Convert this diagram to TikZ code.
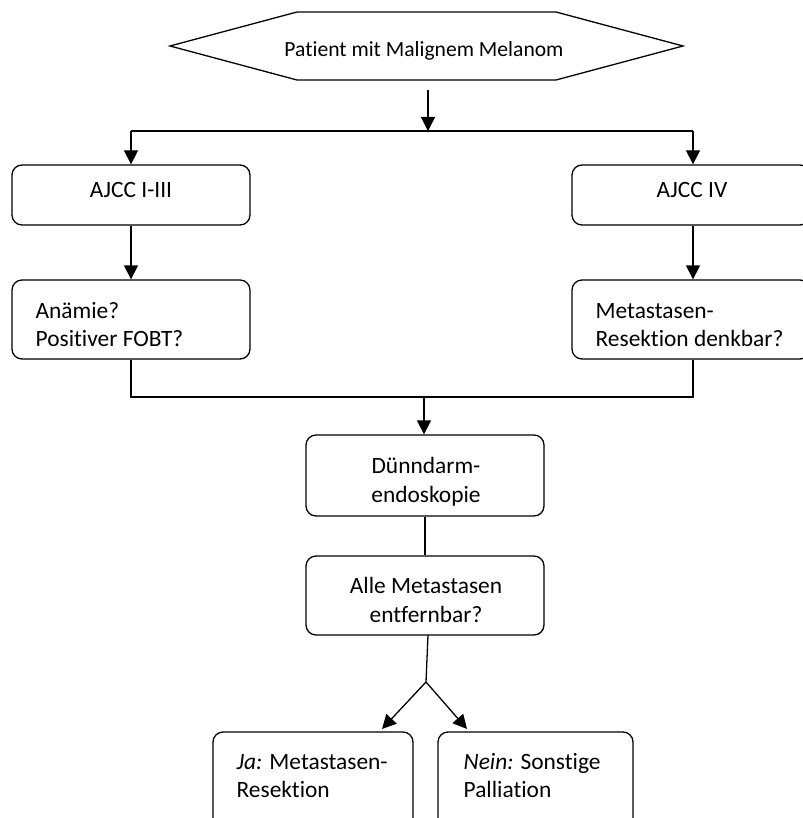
\documentclass[tikz,border=0pt]{standalone}
\usepackage{fontspec}
\setmainfont{Carlito}[Ligatures={NoCommon,NoContextual}]
\usetikzlibrary{arrows.meta}
\begin{document}
\begin{tikzpicture}[x=1pt,y=-1pt,
  line width=1.3pt,
  box/.style={draw, rounded corners=10pt, line width=1.3pt, inner sep=0pt, minimum width=238pt, minimum height=79pt},
  txt/.style={inner sep=0pt, font=\fontsize{23.4pt}{29pt}\selectfont},
  hextxt/.style={inner sep=0pt, font=\fontsize{21.6pt}{26pt}\selectfont},
  arr/.style={-{Triangle[length=14pt,width=14pt]}}]
\useasboundingbox (0,0) rectangle (802,818);
% hexagon
\draw (170,46) -- (297,12) -- (556,12) -- (683,46) -- (556,80) -- (297,80) -- cycle;
\node[hextxt, anchor=base] (start) at (424,57) {Patient mit Malignem Melanom};
\coordinate (hexbot) at (428,90);
\coordinate (split) at (428,131);
\coordinate (L) at (131,131);
\coordinate (R) at (693,131);
% boxes
\node[box, minimum height=60pt] (ajl) at (131,195) {};
\node[box, minimum height=60pt] (ajr) at (691,195) {};
\node[txt, anchor=base] (tajl) at (131,198) {AJCC I-III};
\node[txt, anchor=base] (tajr) at (692,198) {AJCC IV};
\node[box] (anl) at (131,319.5) {};
\node[box] (anr) at (691,319.5) {};
\node[txt, anchor=base west] (tanl1) at (35,318) {Anämie?};
\node[txt, anchor=base west] (tanl2) at (35,346) {Positiver FOBT?};
\node[txt, anchor=base west] (tanr1) at (595,318) {Metastasen-};
\node[txt, anchor=base west] (tanr2) at (595,346) {Resektion denkbar?};
\node[box, minimum height=81pt] (dd) at (425,475.5) {};
\node[txt, anchor=base] (tdd1) at (426,473) {Dünndarm-};
\node[txt, anchor=base] (tdd2) at (426,502) {endoskopie};
\node[box] (alle) at (425,595.5) {};
\node[txt, anchor=base] (talle1) at (426,593) {Alle Metastasen};
\node[txt, anchor=base] (talle2) at (426,622) {entfernbar?};
\node[box, minimum width=200pt, minimum height=98pt] (ja) at (313,781) {};
\node[box, minimum width=195pt, minimum height=98pt] (nein) at (535.5,781) {};
\node[txt, anchor=base west] (tja1) at (236,769) {\textit{Ja:} Metastasen-};
\node[txt, anchor=base west] (tja2) at (236,797) {Resektion};
\node[txt, anchor=base west] (tnein1) at (463,769) {\textit{Nein:} Sonstige};
\node[txt, anchor=base west] (tnein2) at (463,797) {Palliation};
% connectors
\draw[arr] (hexbot) -- (split);
\draw (L) -- (R);
\draw[arr] (L) -- (L |- ajl.north);
\draw[arr] (R) -- (R |- ajr.north);
\draw[arr] (ajl.south) -- (anl.north);
\draw[arr] (R |- ajr.south) -- (R |- anr.north);
\coordinate (ML) at (131,397);
\coordinate (MR) at (693,397);
\coordinate (MC) at (424,397);
\draw (anl.south) -- (ML) -- (MR) -- (MR |- anr.south);
\draw[arr] (MC) -- (MC |- dd.north);
\draw (dd.south) -- (alle.north);
\coordinate (fork) at (426,682);
\draw (428,635) -- (fork);
\draw[arr] (fork) -- (382,729);
\draw[arr] (fork) -- (467,729);
\end{tikzpicture}
\end{document}
